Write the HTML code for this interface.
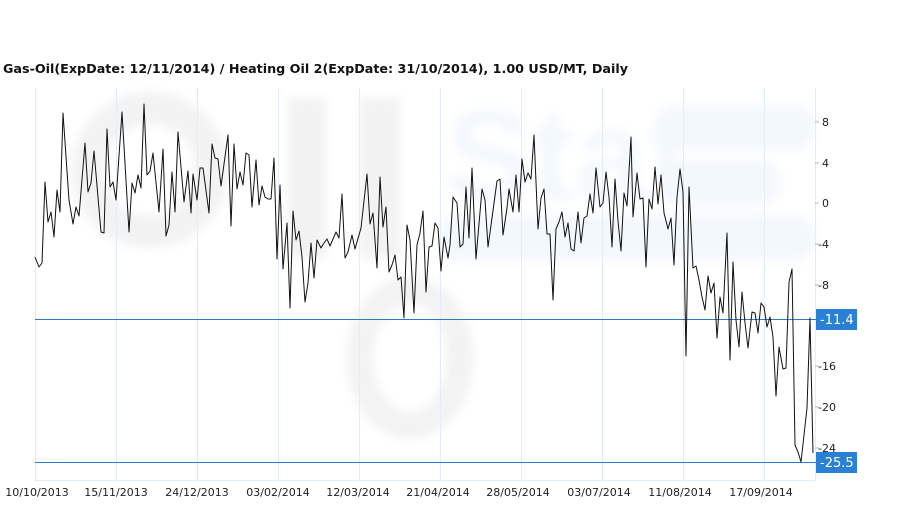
<!DOCTYPE html>
<html><head><meta charset="utf-8"><style>
html,body{margin:0;padding:0;background:#fff;}
svg{display:block;font-family:"DejaVu Sans","Liberation Sans",sans-serif;}
</style></head><body>
<svg width="909" height="509" viewBox="0 0 909 509">
<defs><filter id="bl" x="-20%" y="-20%" width="140%" height="140%"><feGaussianBlur stdDeviation="5"/></filter></defs>
<!-- watermark -->
<g opacity="0.06" filter="url(#bl)">
<circle cx="150" cy="170" r="62" fill="none" stroke="#333" stroke-width="32"/>
<rect x="288" y="98" width="38" height="160" fill="#333"/>
<rect x="360" y="98" width="40" height="160" fill="#333"/>
<ellipse cx="410" cy="358" rx="50" ry="68" fill="none" stroke="#333" stroke-width="26"/>
</g>
<g opacity="0.06" fill="#3a8fd8" filter="url(#bl)">
<text x="445" y="200" font-size="130" font-family="Liberation Sans" font-weight="bold">Stat</text>
<rect x="655" y="105" width="160" height="45" rx="20"/>
<rect x="660" y="160" width="120" height="45" rx="20"/>
<rect x="440" y="215" width="375" height="45" rx="20"/>
</g>
<!-- gridlines -->
<g stroke="#e3edf7" stroke-width="1">
<line x1="35.5" y1="88" x2="35.5" y2="482"/>
<line x1="116.5" y1="88" x2="116.5" y2="482"/>
<line x1="197.5" y1="88" x2="197.5" y2="482"/>
<line x1="278.5" y1="88" x2="278.5" y2="482"/>
<line x1="359.5" y1="88" x2="359.5" y2="482"/>
<line x1="440.5" y1="88" x2="440.5" y2="482"/>
<line x1="521.5" y1="88" x2="521.5" y2="482"/>
<line x1="602.5" y1="88" x2="602.5" y2="482"/>
<line x1="683.5" y1="88" x2="683.5" y2="482"/>
<line x1="764.5" y1="88" x2="764.5" y2="482"/>
<line x1="815.5" y1="88" x2="815.5" y2="482"/>
<line x1="35" y1="480.5" x2="815" y2="480.5"/>
</g>
<!-- y ticks -->
<g stroke="#bbb"><line x1="815" y1="122" x2="819" y2="122"/><line x1="815" y1="163" x2="819" y2="163"/><line x1="815" y1="203" x2="819" y2="203"/><line x1="815" y1="244" x2="819" y2="244"/><line x1="815" y1="285" x2="819" y2="285"/><line x1="815" y1="366" x2="819" y2="366"/><line x1="815" y1="407" x2="819" y2="407"/><line x1="815" y1="448" x2="819" y2="448"/></g>
<g font-size="11" fill="#222">
<text x="822" y="126">8</text><text x="822" y="167">4</text><text x="822" y="207">0</text>
<text x="818" y="248">-4</text><text x="818" y="289">-8</text><text x="818" y="370">-16</text>
<text x="818" y="411">-20</text><text x="818" y="452">-24</text>
</g>
<g font-size="11" fill="#222" text-anchor="middle">
<text x="37" y="496">10/10/2013</text><text x="116" y="496">15/11/2013</text><text x="197" y="496">24/12/2013</text>
<text x="278" y="496">03/02/2014</text><text x="358" y="496">12/03/2014</text><text x="438" y="496">21/04/2014</text>
<text x="518" y="496">28/05/2014</text><text x="599" y="496">03/07/2014</text><text x="680" y="496">11/08/2014</text>
<text x="761" y="496">17/09/2014</text>
</g>
<!-- horizontal marker lines -->
<line x1="35" y1="319.5" x2="816" y2="319.5" stroke="#2f78c2" stroke-width="1"/>
<line x1="35" y1="462.5" x2="816" y2="462.5" stroke="#2f78c2" stroke-width="1"/>
<rect x="816" y="309" width="41" height="21" fill="#2a80d4"/>
<text x="820" y="324" font-size="13" fill="#fff">-11.4</text>
<rect x="816" y="452" width="41" height="21" fill="#2a80d4"/>
<text x="820" y="467" font-size="13" fill="#fff">-25.5</text>
<!-- series -->
<polyline fill="none" stroke="#111" stroke-width="1" stroke-linejoin="round" points="35,257 39,267 42,263 45,182 48,222 51,212 54,237 57,190 60,212 63,113 69,200 73,224 76,207 79,216 85,143 88,192 91,183 94,151 101,232 104,233 107,129 110,187 113,182 116,200 122,112 129,232 132,183 135,193 138,175 141,188 144,104 147,175 150,171 153,153 159,212 163,149 166,236 169,225 172,172 175,212 178,132 184,202 188,171 191,213 193,174 197,200 200,168 203,168 209,213 212,144 215,158 218,159 221,186 228,135 231,226 234,144 237,189 240,172 243,185 246,153 249,155 252,207 256,160 259,205 262,186 265,197 268,199 271,199 274,158 277,259 280,185 283,269 287,223 290,308 293,211 296,240 299,231 302,257 305,302 308,283 311,243 314,278 317,240 321,248 324,243 327,239 330,246 336,232 339,238 342,194 345,258 348,252 352,235 355,249 361,228 367,174 370,224 373,213 377,268 380,177 383,227 386,207 389,272 392,265 395,255 398,280 401,277 404,318 407,225 410,240 414,313 417,245 420,233 423,211 426,292 429,247 432,246 435,223 438,228 441,271 444,237 448,258 450,245 453,197 457,203 460,247 463,244 466,187 469,238 472,168 476,259 482,189 485,200 488,247 492,218 497,181 500,179 503,235 507,208 509,189 513,212 516,175 519,212 522,159 525,182 528,173 531,179 534,135 538,229 541,198 544,189 547,234 550,234 553,300 556,229 559,222 562,212 565,237 568,223 571,249 574,251 578,212 581,243 584,218 587,216 590,194 593,213 596,168 600,207 603,203 606,172 609,197 612,247 615,179 618,221 621,251 624,193 627,206 631,137 633,217 637,173 640,199 643,198 646,267 649,199 652,209 655,167 658,204 661,175 664,213 668,229 671,218 674,265 677,197 680,169 683,192 686,356 689,187 693,268 696,266 699,280 702,297 705,310 708,276 711,293 714,283 717,338 720,297 723,313 727,233 730,360 733,262 736,320 739,347 742,292 745,323 748,348 752,312 755,313 758,333 761,303 764,307 767,327 770,317 773,337 776,396 779,347 783,369 786,368 789,282 792,269 795,445 798,452 801,462 807,408 810,318 813,453"/>
<!-- title -->
<text x="3" y="73" font-size="12" font-weight="bold" fill="#111" textLength="625" lengthAdjust="spacingAndGlyphs">Gas-Oil(ExpDate: 12/11/2014) / Heating Oil 2(ExpDate: 31/10/2014), 1.00 USD/MT, Daily</text>
</svg>
</body></html>
